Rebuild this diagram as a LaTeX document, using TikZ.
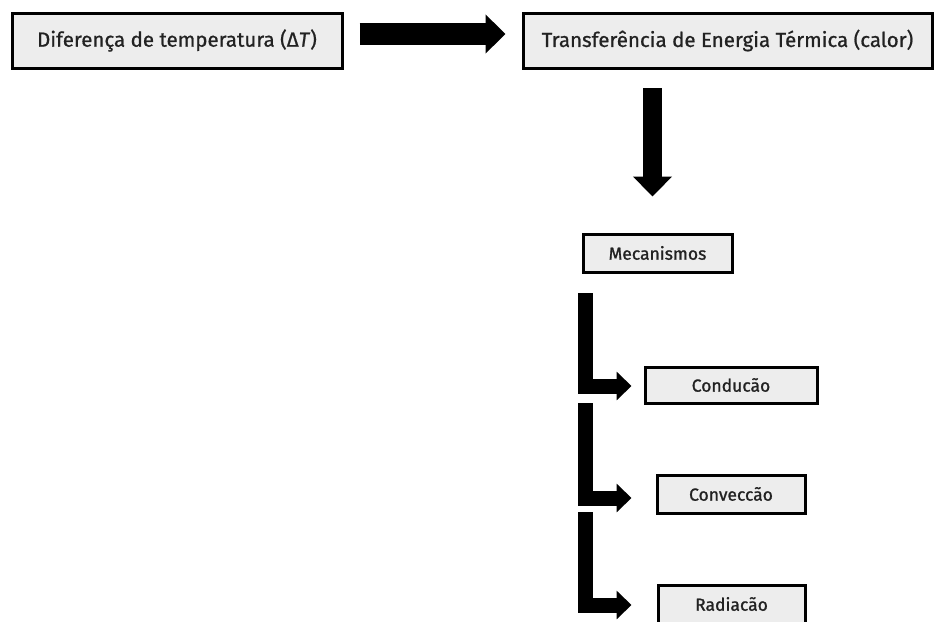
\documentclass[tikz,border=0pt]{standalone}
\usepackage{fontspec}
\setmainfont{Fira Sans}
\newfontfamily\boxfont{Fira Sans}[FakeBold=0.8]
\newfontfamily\smallboxfont{Fira Sans}[FakeBold=1.2]
\usetikzlibrary{arrows.meta}
\definecolor{boxgray}{HTML}{EDEDED}
\definecolor{textgray}{HTML}{222222}
\begin{document}
\begin{tikzpicture}[x=1pt,y=-1pt,
  box/.style={draw=black, line width=3pt, fill=boxgray, inner sep=0pt, text=textgray},
  bigtext/.style={font=\boxfont\fontsize{20.5}{24}\selectfont},
  smalltext/.style={font=\smallboxfont\fontsize{17.5}{21}\selectfont},
  bigarrow/.style={line width=22pt, -{Triangle[length=20pt,width=38pt]}},
  downarrow/.style={line width=19pt, -{Triangle[length=20pt,width=38pt]}},
  larrow/.style={line width=15pt, miter limit=10, line join=miter, -{Triangle[length=15pt,width=28pt]}}
]
\useasboundingbox (0,0) rectangle (934,621);
\node[box, bigtext, minimum width=330pt, minimum height=55pt] (b1) at (177,40.5) {Diferença de temperatura (Δ\textit{T})};
\node[box, bigtext, minimum width=409pt, minimum height=55pt] (b2) at (727.5,40.5) {Transferência de Energia Térmica (calor)};
\node[box, smalltext, minimum width=149pt, minimum height=38pt] (mec) at (657.5,253) {Mecanismos};
\node[box, smalltext, minimum width=172pt, minimum height=36pt] (cond) at (731,385) {Conducão};
\node[box, smalltext, minimum width=148pt, minimum height=38pt] (conv) at (731,494) {Conveccão};
\node[box, smalltext, minimum width=147pt, minimum height=38pt] (rad) at (731.5,604) {Radiacão};

\draw[bigarrow] ([xshift=16pt,yshift=6.5pt]b1.east) -- ([xshift=-16pt,yshift=6.5pt]b2.west);
\coordinate (d0) at (652.5,88);
\draw[downarrow] (d0) -- ([yshift=36pt]mec.north -| d0);
\coordinate (l1) at (585.5,293);
\coordinate (l2) at (585.5,403);
\coordinate (l3) at (585.5,512);
\draw[larrow] (l1) |- ([xshift=-12pt,yshift=-1pt]cond.west);
\draw[larrow] (l2) |- ([xshift=-24pt,yshift=-4pt]conv.west);
\draw[larrow] (l3) |- ([xshift=-25pt,yshift=-1pt]rad.west);
\end{tikzpicture}
\end{document}
